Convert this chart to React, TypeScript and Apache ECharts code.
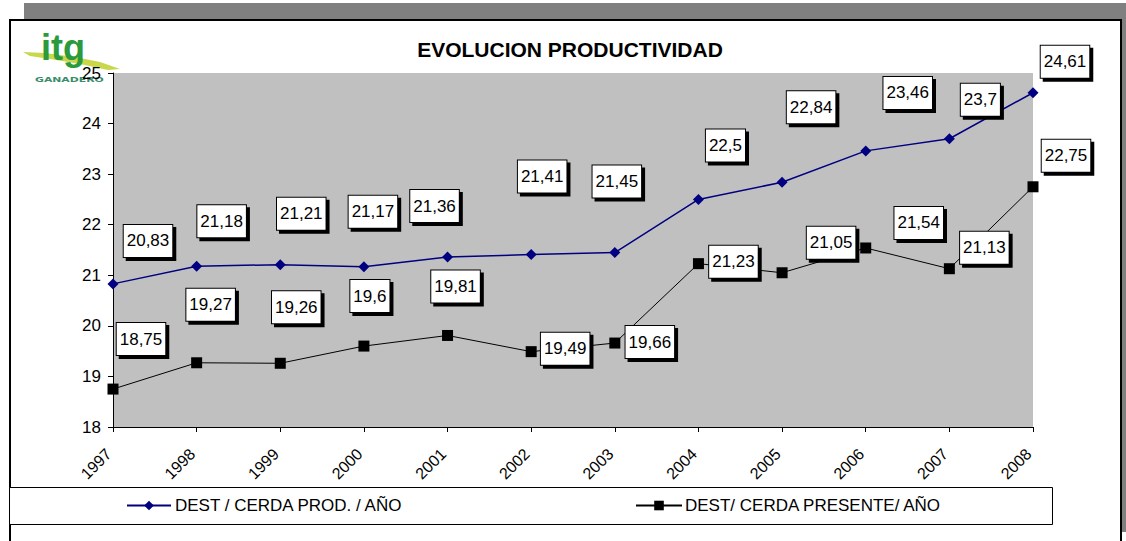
import React, { useEffect, useRef } from "react";
import * as echarts from "echarts";

const years = ["1997", "1998", "1999", "2000", "2001", "2002", "2003", "2004", "2005", "2006", "2007", "2008"];
const prodName = "DEST / CERDA PROD. / AÑO";
const presName = "DEST/ CERDA PRESENTE/ AÑO";
const prodValues = [20.83, 21.18, 21.21, 21.17, 21.36, 21.41, 21.45, 22.5, 22.84, 23.46, 23.7, 24.61];
const presValues = [18.75, 19.27, 19.26, 19.6, 19.81, 19.49, 19.66, 21.23, 21.05, 21.54, 21.13, 22.75];
const yTicks = { min: 18, max: 25, interval: 1 };

// label placement (pixels relative to the point)
const prodLabelOffsets = [[35, -43], [25, -45], [21, -51], [9, -55], [-13, -51], [11, -78], [2, -71], [27, -54], [29, -75], [42, -58], [31, -39], [32, -31]];
const presLabelOffsets = [[28, -50], [14, -58], [16, -56], [6, -50], [8, -49], [34, -3], [35, -1], [35, -2], [49, -30], [53, -25], [35, -21], [33, -31]];

const FONT = "'Liberation Sans', Arial, sans-serif";

const fmt = (v: number) => String(v).replace(".", ",");

const labelBase = {
  show: true,
  position: "inside",
  color: "#000",
  fontFamily: FONT,
  fontSize: 17,
  lineHeight: 20,
  backgroundColor: "#fff",
  borderColor: "#000",
  borderWidth: 1,
  padding: [6, 3, 6, 3],
  shadowColor: "#000",
  shadowBlur: 0,
  shadowOffsetX: 3,
  shadowOffsetY: 3,
};

export default function App() {
  const ref = useRef<HTMLDivElement>(null);
  useEffect(() => {
    if (!ref.current) return;
    const chart = echarts.init(ref.current, null, { renderer: "svg" });
    const mk = (vals: number[], offs: number[][]) =>
      vals.map((v, i) => ({
        value: v,
        label: { ...labelBase, offset: offs[i], formatter: () => fmt(v) },
      }));
    chart.setOption({
      animation: false,
      backgroundColor: "transparent",
      textStyle: { fontFamily: FONT },
      title: {
        text: "EVOLUCION PRODUCTIVIDAD",
        left: 565,
        textAlign: "center",
        top: 34,
        textStyle: { fontFamily: FONT, fontSize: 21, fontWeight: "bold", color: "#000" },
      },
      grid: {
        left: 113,
        top: 73,
        right: 93,
        bottom: 114,
        show: true,
        backgroundColor: "#c0c0c0",
        borderWidth: 0,
      },
      legend: [
        {
          data: [prodName],
          left: 126,
          top: 497,
          padding: 0,
          itemWidth: 44,
          itemHeight: 12,
          itemGap: 4,
          textStyle: { fontFamily: FONT, fontSize: 17, color: "#000", padding: [0, 0, 0, -1] },
        },
        {
          data: [presName],
          left: 635,
          top: 497,
          padding: 0,
          itemWidth: 46,
          itemHeight: 12,
          textStyle: { fontFamily: FONT, fontSize: 17, color: "#000", padding: [0, 0, 0, -2] },
        },
      ],
      xAxis: {
        type: "category",
        data: years,
        boundaryGap: false,
        axisLine: { lineStyle: { color: "#000", width: 1 } },
        axisTick: { show: true, length: 5, lineStyle: { color: "#000" } },
        axisLabel: {
          rotate: 45,
          margin: 20,
          padding: [0, 6, 0, 0],
          color: "#000",
          fontFamily: FONT,
          fontSize: 16,
        },
        splitLine: { show: false },
      },
      yAxis: {
        type: "value",
        min: yTicks.min,
        max: yTicks.max,
        interval: yTicks.interval,
        axisLine: { show: true, lineStyle: { color: "#000", width: 1 } },
        axisTick: { show: true, length: 5, lineStyle: { color: "#000" } },
        axisLabel: { margin: 12, color: "#000", fontFamily: FONT, fontSize: 17 },
        splitLine: { show: false },
      },
      graphic: [
        {
          type: "rect",
          left: 9,
          top: 487,
          shape: { width: 1043, height: 37 },
          style: { fill: "#fff", stroke: "#000", lineWidth: 1 },
          z: -1,
        },
        {
          type: "polygon",
          shape: {
            points: [[23, 52], [45, 53], [75, 57], [100, 62], [120, 69], [108, 70], [80, 64], [50, 59], [30, 56]],
          },
          style: { fill: "#c8d84a" },
        },
        {
          type: "text",
          x: 41,
          y: 29,
          style: {
            text: "itg",
            fill: "#2a9a3c",
            font: "bold 36px 'Liberation Sans', Arial, sans-serif",
          },
        },
        {
          type: "text",
          x: 35,
          y: 76,
          scaleX: 1.55,
          style: {
            text: "GANADERO",
            fill: "#3a8c6c",
            font: "bold 7px 'DejaVu Sans', sans-serif",
          },
        },
      ],
      series: [
        {
          name: prodName,
          type: "line",
          data: mk(prodValues, prodLabelOffsets),
          symbol: "diamond",
          symbolSize: 11,
          itemStyle: { color: "#000080" },
          lineStyle: { color: "#000080", width: 1.5 },
          z: 3,
        },
        {
          name: presName,
          type: "line",
          data: mk(presValues, presLabelOffsets),
          symbol: "rect",
          symbolSize: 11,
          itemStyle: { color: "#000" },
          lineStyle: { color: "#000", width: 1 },
          z: 3,
        },
      ],
    });
    return () => chart.dispose();
  }, []);

  return (
    <div style={{ position: "fixed", left: 0, top: 0, width: 1126, height: 541, overflow: "hidden", background: "#fff" }}>
      <div style={{ position: "absolute", left: 24, top: 3, width: 1102, height: 529, background: "#808080" }} />
      <div
        style={{
          position: "absolute",
          left: 9,
          top: 19,
          width: 1113,
          height: 540,
          background: "#fff",
          border: "2px solid #000",
          borderBottom: "none",
          boxSizing: "border-box",
        }}
      />
      <div ref={ref} style={{ position: "absolute", left: 0, top: 0, width: 1126, height: 541 }} />
    </div>
  );
}
